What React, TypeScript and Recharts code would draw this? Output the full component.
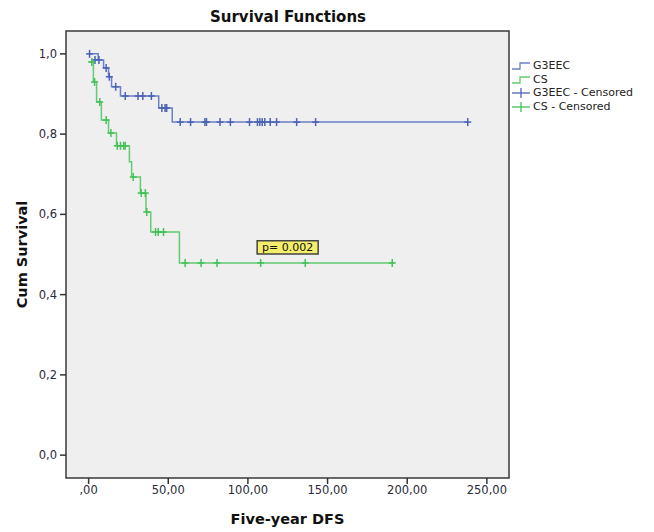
import {
  ComposedChart,
  Line,
  Scatter,
  XAxis,
  YAxis,
  ReferenceArea,
  Label,
} from "recharts";

// Kaplan-Meier steps: [time, cumulative survival]
const g3eecSteps = [
  { t: 0, s: 1.0 },
  { t: 6, s: 0.985 },
  { t: 9.4, s: 0.965 },
  { t: 12.5, s: 0.943 },
  { t: 14.4, s: 0.918 },
  { t: 20, s: 0.895 },
  { t: 44, s: 0.865 },
  { t: 52.5, s: 0.83 },
  { t: 238, s: 0.83 },
];

const csSteps = [
  { t: 0, s: 0.98 },
  { t: 3, s: 0.93 },
  { t: 5, s: 0.88 },
  { t: 8, s: 0.835 },
  { t: 12.5, s: 0.803 },
  { t: 17.5, s: 0.771 },
  { t: 25.6, s: 0.731 },
  { t: 27, s: 0.693 },
  { t: 32.5, s: 0.653 },
  { t: 36, s: 0.606 },
  { t: 39, s: 0.556 },
  { t: 57, s: 0.479 },
  { t: 192, s: 0.479 },
];

const g3eecCensored = [
  { t: 0.6, s: 1.0 },
  { t: 4, s: 0.985 },
  { t: 6.5, s: 0.985 },
  { t: 11, s: 0.965 },
  { t: 13, s: 0.943 },
  { t: 17, s: 0.918 },
  { t: 23, s: 0.895 },
  { t: 31, s: 0.895 },
  { t: 34, s: 0.895 },
  { t: 39.4, s: 0.895 },
  { t: 46, s: 0.865 },
  { t: 48, s: 0.865 },
  { t: 49, s: 0.865 },
  { t: 57.5, s: 0.83 },
  { t: 64, s: 0.83 },
  { t: 73, s: 0.83 },
  { t: 74, s: 0.83 },
  { t: 82.5, s: 0.83 },
  { t: 89, s: 0.83 },
  { t: 101, s: 0.83 },
  { t: 106, s: 0.83 },
  { t: 107.5, s: 0.83 },
  { t: 109, s: 0.83 },
  { t: 110.6, s: 0.83 },
  { t: 114, s: 0.83 },
  { t: 118, s: 0.83 },
  { t: 130.6, s: 0.83 },
  { t: 142.5, s: 0.83 },
  { t: 238, s: 0.83 },
];

const csCensored = [
  { t: 2, s: 0.98 },
  { t: 3.75, s: 0.93 },
  { t: 7, s: 0.88 },
  { t: 11, s: 0.835 },
  { t: 14, s: 0.803 },
  { t: 18, s: 0.771 },
  { t: 20, s: 0.771 },
  { t: 22, s: 0.771 },
  { t: 23, s: 0.771 },
  { t: 28, s: 0.693 },
  { t: 33, s: 0.653 },
  { t: 35.6, s: 0.653 },
  { t: 36.5, s: 0.606 },
  { t: 42, s: 0.556 },
  { t: 43.7, s: 0.556 },
  { t: 47, s: 0.556 },
  { t: 60.6, s: 0.479 },
  { t: 70.6, s: 0.479 },
  { t: 80.6, s: 0.479 },
  { t: 108, s: 0.479 },
  { t: 136, s: 0.479 },
  { t: 190.6, s: 0.479 },
];

const xTicks = [0, 50, 100, 150, 200, 250];
const yTicks = [0, 0.2, 0.4, 0.6, 0.8, 1.0];

const BLUE = "#6b80c8";
const BLUE_MARK = "#4a62b4";
const GREEN = "#62cc72";
const GREEN_MARK = "#45bf58";
const FONT = "'DejaVu Sans', sans-serif";

const fmtX = (v: number) => (v === 0 ? ",00" : v.toFixed(2).replace(".", ","));
const fmtY = (v: number) => v.toFixed(1).replace(".", ",");

const plus = (color: string) => (props: any) => {
  const { cx, cy } = props;
  if (cx == null || cy == null) return <g />;
  return (
    <g stroke={color} strokeWidth={1.5}>
      <line x1={cx} y1={cy - 4} x2={cx} y2={cy + 4} />
      <line x1={cx - 3.5} y1={cy} x2={cx + 3.5} y2={cy} />
    </g>
  );
};

const StepIcon = ({ color }: { color: string }) => (
  <svg width={20} height={10} style={{ verticalAlign: "middle" }}>
    <polyline points="1,8 9,8 9,2 19,2" fill="none" stroke={color} strokeWidth={1.3} />
  </svg>
);

const PlusIcon = ({ color }: { color: string }) => (
  <svg width={20} height={10} style={{ verticalAlign: "middle" }}>
    <line x1={1} y1={5} x2={19} y2={5} stroke={color} strokeWidth={1.3} />
    <line x1={10} y1={0} x2={10} y2={10} stroke={color} strokeWidth={1.3} />
  </svg>
);

const legendItems = [
  { label: "G3EEC", icon: <StepIcon color={BLUE} /> },
  { label: "CS", icon: <StepIcon color={GREEN} /> },
  { label: "G3EEC - Censored", icon: <PlusIcon color={BLUE_MARK} /> },
  { label: "CS - Censored", icon: <PlusIcon color={GREEN_MARK} /> },
];

const tickStyle = { fontSize: 11.5, fill: "#2a2a3a", fontFamily: FONT };

export default function App() {
  return (
    <div style={{ position: "absolute", left: 0, top: 0, width: 654, height: 532, background: "#fff" }}>
      <div
        style={{
          position: "absolute",
          left: 0,
          width: 576,
          top: 8,
          textAlign: "center",
          fontFamily: FONT,
          fontWeight: "bold",
          fontSize: 15,
          color: "#111",
        }}
      >
        Survival Functions
      </div>
      <ComposedChart
        width={654}
        height={532}
        margin={{ top: 31, right: 145, bottom: 0, left: 0 }}
      >
        <XAxis
          dataKey="t"
          type="number"
          domain={[-14.2, 263.9]}
          ticks={xTicks}
          tickFormatter={fmtX}
          axisLine={false}
          tickLine={{ stroke: "#333", strokeWidth: 1.5 }}
          tickSize={6}
          tickMargin={2}
          tick={tickStyle}
          height={54}
          allowDataOverflow
        >
          <Label
            value="Five-year DFS"
            position="insideBottom"
            offset={8}
            style={{ fontSize: 14.5, fontWeight: "bold", fill: "#111", fontFamily: FONT }}
          />
        </XAxis>
        <YAxis
          dataKey="s"
          type="number"
          domain={[-0.057, 1.057]}
          ticks={yTicks}
          tickFormatter={fmtY}
          axisLine={false}
          tickLine={{ stroke: "#333", strokeWidth: 1.5 }}
          tickSize={6}
          tickMargin={3}
          tick={tickStyle}
          width={66}
          allowDataOverflow
        >
          <Label
            value="Cum Survival"
            angle={-90}
            position="insideLeft"
            offset={22}
            style={{ fontSize: 14.5, fontWeight: "bold", fill: "#111", fontFamily: FONT, textAnchor: "middle" }}
          />
        </YAxis>
        <ReferenceArea
          x1={-14.2}
          x2={263.9}
          y1={-0.057}
          y2={1.057}
          fill="#efefef"
          fillOpacity={1}
          stroke="#3a3a3a"
          strokeWidth={1.5}
          ifOverflow="visible"
        />
        <ReferenceArea
          x1={105.8}
          x2={144.1}
          y1={0.501}
          y2={0.534}
          fill="#f4ee6a"
          fillOpacity={1}
          stroke="#444"
          strokeWidth={1.5}
          ifOverflow="visible"
          label={{ value: "p= 0.002", position: "center", fontSize: 11, fill: "#111", fontFamily: FONT }}
        />
        <Line
          data={g3eecSteps}
          dataKey="s"
          type="stepAfter"
          stroke={BLUE}
          strokeWidth={1.5}
          dot={false}
          activeDot={false}
          isAnimationActive={false}
        />
        <Line
          data={csSteps}
          dataKey="s"
          type="stepAfter"
          stroke={GREEN}
          strokeWidth={1.5}
          dot={false}
          activeDot={false}
          isAnimationActive={false}
        />
        <Scatter data={g3eecCensored} dataKey="s" shape={plus(BLUE_MARK)} isAnimationActive={false} />
        <Scatter data={csCensored} dataKey="s" shape={plus(GREEN_MARK)} isAnimationActive={false} />
      </ComposedChart>
      <div
        style={{
          position: "absolute",
          left: 511,
          top: 59,
          fontFamily: FONT,
          fontSize: 11,
          color: "#222",
          lineHeight: "13.7px",
        }}
      >
        {legendItems.map((it) => (
          <div key={it.label} style={{ whiteSpace: "nowrap" }}>
            {it.icon}
            <span style={{ marginLeft: 2 }}>{it.label}</span>
          </div>
        ))}
      </div>
    </div>
  );
}
